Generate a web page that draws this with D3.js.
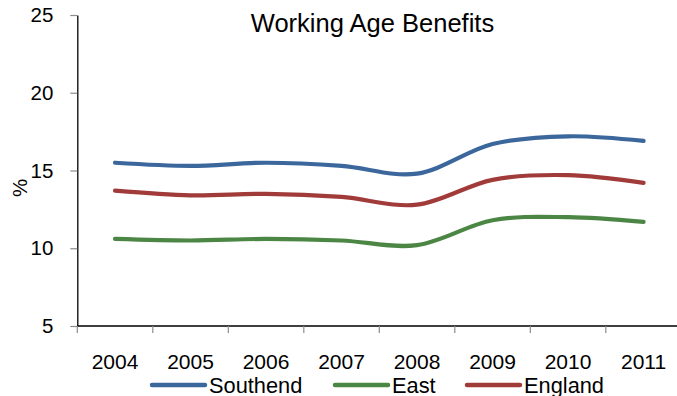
<!DOCTYPE html>
<html>
<head>
<meta charset="utf-8">
<script src="https://cdn.jsdelivr.net/npm/d3@7"></script>
<style>
  html, body { margin: 0; padding: 0; background: #fff; }
  svg { display: block; font-family: "Liberation Sans", Arial, sans-serif; }
</style>
</head>
<body>
<svg id="chart" width="677" height="396"></svg>
<script>
// Share of working-age population claiming benefits (%)
const years = ["2004", "2005", "2006", "2007", "2008", "2009", "2010", "2011"];
const southend = [15.5, 15.3, 15.5, 15.3, 14.8, 16.7, 17.2, 16.9];
const east     = [10.6, 10.5, 10.6, 10.5, 10.2, 11.8, 12.0, 11.7];
const england  = [13.7, 13.4, 13.5, 13.3, 12.8, 14.4, 14.7, 14.2];
const yTicks = [5, 10, 15, 20, 25];

const seriesList = [
  { name: "Southend", values: southend, color: "#3B679C" },
  { name: "East",     values: east,     color: "#4C8645" },
  { name: "England",  values: england,  color: "#A13B3A" }
];

const svg = d3.select("#chart");
const plotLeft = 77.3, plotRight = 681.3, plotTop = 15, plotBottom = 326;

const x = d3.scaleBand().domain(years).range([plotLeft, plotRight]);
const y = d3.scaleLinear().domain([5, 25]).range([plotBottom, plotTop]);

// Y axis
const yAxis = svg.append("g").attr("transform", `translate(${plotLeft},0)`)
  .call(d3.axisLeft(y).tickValues(yTicks).tickSize(7).tickPadding(17).tickSizeOuter(0));
yAxis.select(".domain").attr("stroke", "#000").attr("stroke-width", 1.3);
yAxis.selectAll(".tick line").attr("stroke", "#8c8c8c").attr("stroke-width", 1.2);
yAxis.selectAll(".tick text").attr("font-size", "20.5px").attr("fill", "#000")
  .attr("font-family", "Liberation Sans, Arial, sans-serif");

// X axis with ticks on category boundaries
const xAxis = svg.append("g").attr("transform", `translate(0,${plotBottom})`);
xAxis.append("line").attr("x1", plotLeft).attr("x2", 677).attr("y1", 0).attr("y2", 0)
  .attr("stroke", "#000").attr("stroke-width", 1.3);
xAxis.selectAll("line.tk").data(years).join("line").attr("class", "tk")
  .attr("x1", d => x(d)).attr("x2", d => x(d)).attr("y1", 0).attr("y2", 7)
  .attr("stroke", "#8c8c8c").attr("stroke-width", 1.2);
xAxis.selectAll("text").data(years).join("text")
  .attr("x", d => x(d) + x.bandwidth() / 2).attr("y", 43)
  .attr("text-anchor", "middle").attr("font-size", "21px").attr("fill", "#000")
  .text(d => d);

// Y axis title
svg.append("text").attr("transform", "translate(27,188) rotate(-90)")
  .attr("text-anchor", "middle").attr("font-size", "20.5px").text("%");

// Chart title
svg.append("text").attr("x", 372.5).attr("y", 32).attr("text-anchor", "middle")
  .attr("font-size", "25.5px").text("Working Age Benefits");

// Smoothed series lines
const line = d3.line()
  .x((d, i) => x(years[i]) + x.bandwidth() / 2)
  .y(d => y(d))
  .curve(d3.curveCardinal.tension(0));

svg.append("g").selectAll("path").data(seriesList).join("path")
  .attr("d", d => line(d.values))
  .attr("fill", "none").attr("stroke", d => d.color)
  .attr("stroke-width", 4.2).attr("stroke-linecap", "round");

// Legend
const legendX = [152, 335, 467];
const lg = svg.append("g").selectAll("g").data(seriesList).join("g")
  .attr("transform", (d, i) => `translate(${legendX[i]},385)`);
lg.append("line").attr("x1", 0).attr("x2", 53).attr("y1", 0).attr("y2", 0)
  .attr("stroke", d => d.color).attr("stroke-width", 4.5).attr("stroke-linecap", "round");
lg.append("text").attr("x", 57).attr("y", 7.5).attr("font-size", "21.8px").text(d => d.name);
</script>
</body>
</html>
